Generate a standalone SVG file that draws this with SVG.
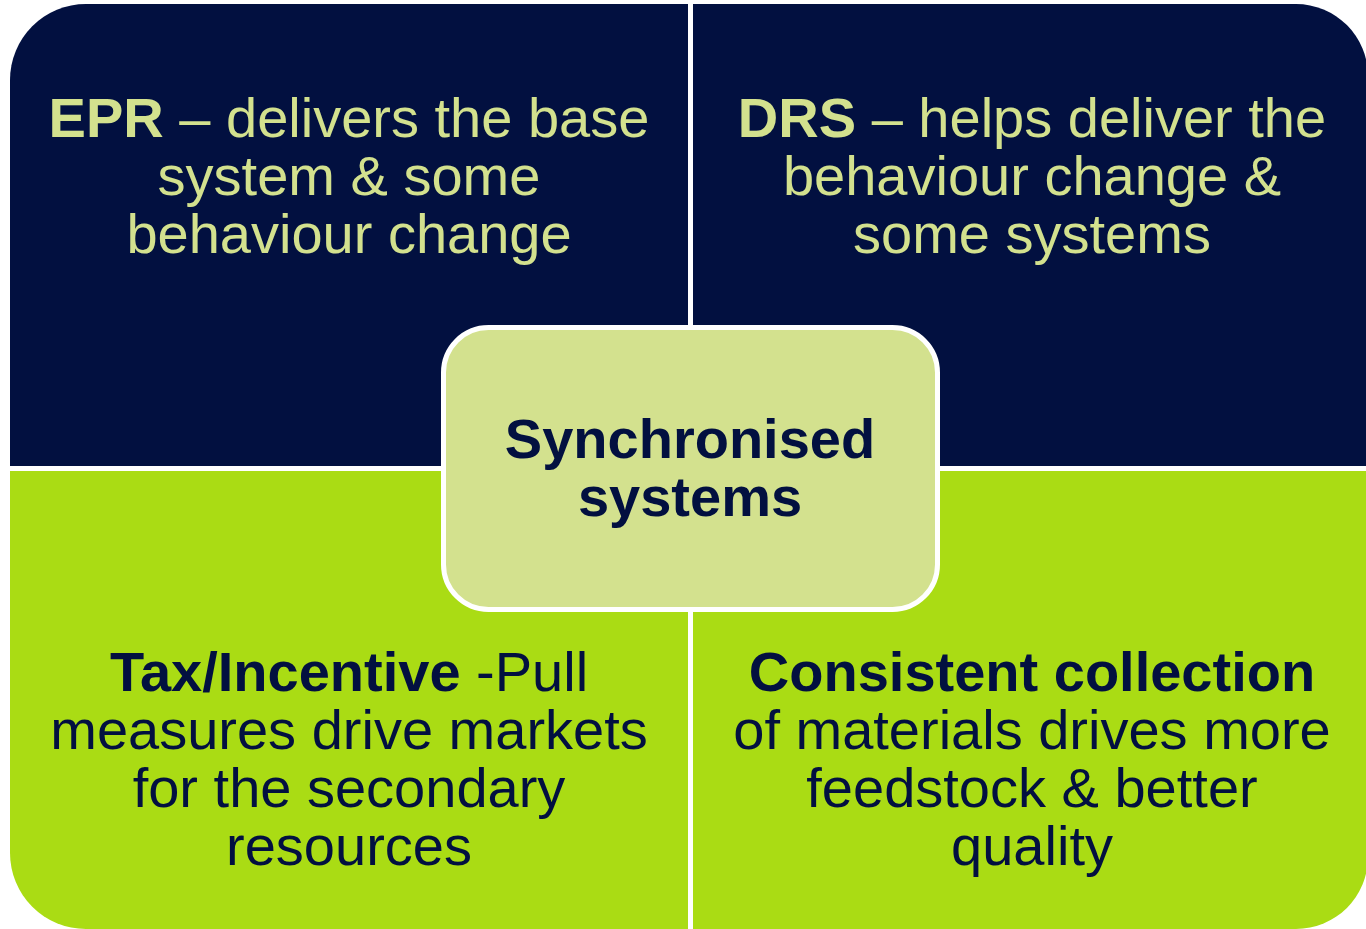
<svg xmlns="http://www.w3.org/2000/svg" width="1366" height="929" viewBox="0 0 1366 929">
<style>
.t{font-family:"Liberation Sans",Arial,sans-serif;font-size:56px;text-anchor:middle}
.lt{fill:#d3e18e}
.dk{fill:#021040}
.b{font-weight:bold}
</style>
<rect width="1366" height="929" fill="#ffffff"/>
<g id="epr">
<path d="M10,80 A76,76 0 0 1 86,4 L688,4 L688,466 L10,466 Z" fill="#021040"/>
<text class="t lt" x="349" y="137"><tspan class="b">EPR</tspan> – delivers the base</text>
<text class="t lt" x="349" y="195">system &amp; some</text>
<text class="t lt" x="349" y="253">behaviour change</text>
</g>
<g id="drs">
<path d="M693,4 L1296,4 A72,72 0 0 1 1368,76 L1368,466 L693,466 Z" fill="#021040"/>
<text class="t lt" x="1032" y="137"><tspan class="b">DRS</tspan> – helps deliver the</text>
<text class="t lt" x="1032" y="195">behaviour change &amp;</text>
<text class="t lt" x="1032" y="253">some systems</text>
</g>
<g id="tax">
<path d="M10,471 L688,471 L688,929 L86,929 A76,76 0 0 1 10,853 Z" fill="#aadc14"/>
<text class="t dk" x="349" y="691"><tspan class="b">Tax/Incentive</tspan> -Pull</text>
<text class="t dk" x="349" y="749">measures drive markets</text>
<text class="t dk" x="349" y="807">for the secondary</text>
<text class="t dk" x="349" y="865">resources</text>
</g>
<g id="collection">
<path d="M693,471 L1368,471 L1368,857 A72,72 0 0 1 1296,929 L693,929 Z" fill="#aadc14"/>
<text class="t dk b" x="1032" y="691">Consistent collection</text>
<text class="t dk" x="1032" y="749">of materials drives more</text>
<text class="t dk" x="1032" y="807">feedstock &amp; better</text>
<text class="t dk" x="1032" y="865">quality</text>
</g>
<g id="center">
<rect x="443.5" y="327.5" width="494" height="282" rx="45" ry="45" fill="#d3e18e" stroke="#ffffff" stroke-width="5"/>
<text class="t dk b" x="690" y="458">Synchronised</text>
<text class="t dk b" x="690" y="516">systems</text>
</g>
<g id="connectors"></g>
</svg>
